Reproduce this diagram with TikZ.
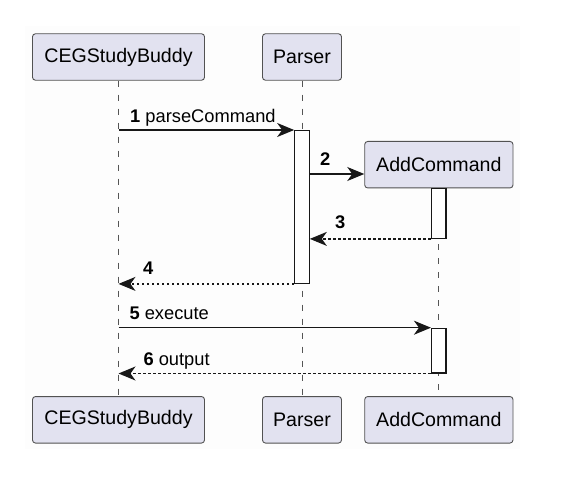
\documentclass[tikz,border=0pt]{standalone}
\usepackage{fontspec}
\setmainfont{Liberation Sans}
\usetikzlibrary{arrows.meta}
\definecolor{pbox}{HTML}{E2E2F0}
\definecolor{pline}{HTML}{181818}
\definecolor{plife}{HTML}{555555}
\definecolor{pbg}{HTML}{FDFDFD}
\begin{document}
\begin{tikzpicture}[x=1pt,y=-1pt,
  part/.style={draw=pline!75,fill=pbox,rounded corners=3pt,line width=0.9pt,minimum height=46.5pt,inner sep=0pt,font=\fontsize{19.6}{22}\selectfont,text=black},
  actbox/.style={draw=pline,fill=white,line width=1.2pt,inner sep=0pt,minimum width=14.5pt},
  life/.style={draw=plife,line width=0.8pt,dash pattern=on 6pt off 8pt},
  msg/.style={draw=pline,line width=1.2pt,-{Stealth[length=17pt,width=14pt,inset=5pt]}},
  ret/.style={msg,dash pattern=on 2.5pt off 2.5pt},
  lbl/.style={anchor=base west,inner sep=0pt,font=\fontsize{18.3}{21}\selectfont,text=black}]
\useasboundingbox (0,0) rectangle (576,492);
\fill[white] (0,0) rectangle (576,492);
\fill[pbg] (25,26) rectangle (520,449);
% participants
\node[part,minimum width=172pt] (cegT) at (118.5,57) {CEGStudyBuddy};
\node[part,minimum width=79pt] (parT) at (302,57) {Parser};
\node[part,minimum width=148.3pt] (addT) at (438.85,164.7) {AddCommand};
\node[part,minimum width=172pt] (cegB) at (118.5,419.8) {CEGStudyBuddy};
\node[part,minimum width=79pt] (parB) at (302,419.8) {Parser};
\node[part,minimum width=148.3pt] (addB) at (438.85,419.8) {AddCommand};
% lifelines
\draw[life] (cegT.south) -- (cegB.north);
\draw[life] (parT.south) -- (parB.north);
\draw[life] (addT.south) -- (addB.north);
% activations
\node[actbox,anchor=north,minimum height=152.7pt] (pact) at (302,130) {};
\node[actbox,anchor=north,minimum height=49.4pt] (aact1) at (438.8,188.3) {};
\node[actbox,anchor=north,minimum height=44.6pt] (aact2) at (438.8,327.7) {};
% messages
\coordinate (m2) at (0,174);
\draw[msg] (cegT.south |- pact.north) -- (pact.north west);
\draw[msg] (pact.east |- m2) -- (addT.west |- m2);
\draw[ret] (aact1.south west) -- (pact.east |- aact1.south);
\draw[ret] (pact.south west) -- (cegT.south |- pact.south);
\draw[msg] (cegT.south |- aact2.north) -- (aact2.north west);
\draw[ret] (aact2.south west) -- (cegT.south |- aact2.south);
% labels
\node[lbl] (l1) at (130,123) {\textbf{1} parseCommand};
\node[lbl] (l2) at (320,166) {\textbf{2}};
\node[lbl] (l3) at (335,229) {\textbf{3}};
\node[lbl] (l4) at (143,274.3) {\textbf{4}};
\node[lbl] (l5) at (129.3,319) {\textbf{5} execute};
\node[lbl] (l6) at (143.3,365) {\textbf{6} output};
\end{tikzpicture}
\end{document}
